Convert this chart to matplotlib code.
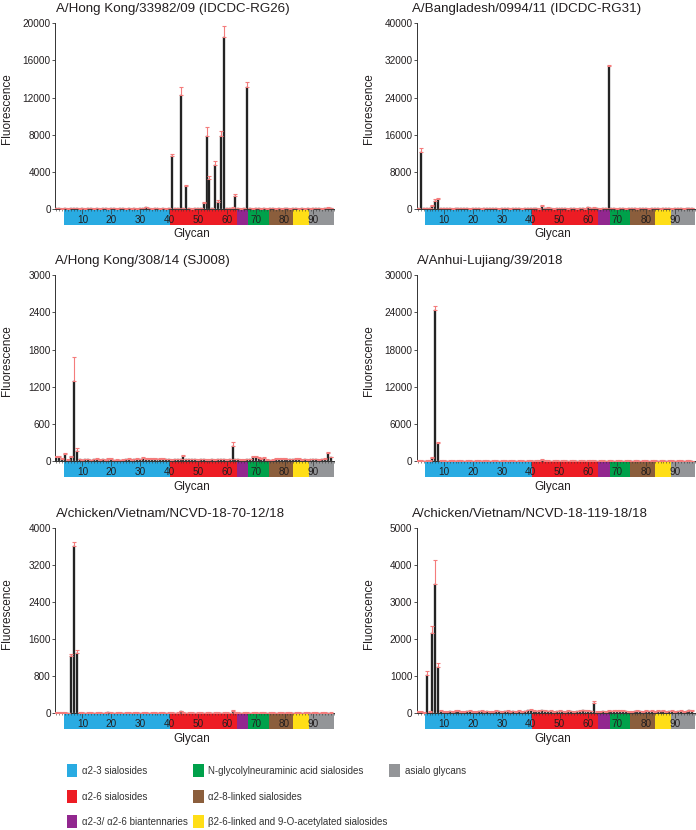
import numpy as np
import matplotlib
matplotlib.use('Agg')
import matplotlib.pyplot as plt
from matplotlib.patches import Rectangle
from matplotlib.transforms import blended_transform_factory
from matplotlib.ticker import MultipleLocator, FixedLocator
from matplotlib import font_manager

plt.rcParams['font.family'] = ['Liberation Sans', 'DejaVu Sans']

# ---------------- data ----------------
glycan_ids = np.arange(1, 97)

titles = ['A/Hong Kong/33982/09 (IDCDC-RG26)', 'A/Bangladesh/0994/11 (IDCDC-RG31)',
          'A/Hong Kong/308/14 (SJ008)', 'A/Anhui-Lujiang/39/2018',
          'A/chicken/Vietnam/NCVD-18-70-12/18', 'A/chicken/Vietnam/NCVD-18-119-18/18']
y_max = [20000, 40000, 3000, 30000, 4000, 5000]
y_step = [4000, 8000, 600, 6000, 800, 1000]

hk_rg26 = [40, 30, 20, 30, 20, 40, 60, 30, 20, 30,
           20, 30, 40, 20, 30, 20, 30, 40, 20, 30,
           30, 20, 30, 40, 20, 30, 20, 30, 20, 30,
           40, 150, 30, 20, 30, 40, 20, 30, 20, 30,
           5700, 40, 30, 12300, 50, 2480, 30, 20, 30, 40,
           30, 580, 7840, 3170, 40, 4710, 690, 7810, 18490, 30,
           40, 100, 1400, 30, 20, 30, 13160, 30, 20, 30,
           40, 20, 30, 20, 30, 40, 20, 30, 20, 30,
           30, 20, 30, 40, 20, 30, 20, 30, 20, 30,
           40, 30, 20, 30, 120, 40]
hk_rg26_err = [40, 30, 30, 30, 20, 40, 50, 30, 20, 30,
               20, 30, 40, 20, 30, 20, 30, 40, 20, 30,
               30, 20, 30, 40, 20, 30, 20, 30, 20, 30,
               40, 60, 30, 20, 30, 40, 20, 30, 20, 30,
               150, 40, 30, 860, 50, 130, 30, 20, 30, 40,
               30, 150, 1000, 350, 40, 400, 250, 600, 1200, 30,
               40, 80, 150, 30, 20, 30, 550, 30, 20, 30,
               40, 20, 30, 20, 30, 40, 20, 30, 20, 30,
               30, 20, 30, 40, 20, 30, 20, 30, 20, 30,
               40, 30, 20, 30, 60, 40]

bd_rg31 = [80, 12300, 60, 50, 60, 600, 1700, 2000, 80, 60,
           50, 60, 40, 50, 60, 70, 50, 60, 40, 50,
           60, 50, 40, 60, 50, 60, 70, 50, 40, 60,
           50, 60, 40, 50, 60, 50, 40, 60, 70, 50,
           60, 50, 40, 600, 60, 250, 50, 40, 60, 50,
           60, 50, 40, 60, 50, 40, 60, 50, 40, 350,
           60, 250, 50, 40, 60, 50, 30750, 60, 50, 40,
           60, 50, 40, 60, 50, 60, 40, 50, 60, 50,
           40, 60, 50, 60, 40, 50, 60, 50, 40, 60,
           50, 60, 40, 50, 60, 150]
bd_rg31_err = [80, 700, 60, 60, 60, 150, 300, 350, 80, 60,
               60, 60, 60, 60, 60, 70, 60, 60, 60, 60,
               60, 60, 60, 60, 60, 60, 70, 60, 60, 60,
               60, 60, 60, 60, 60, 60, 60, 60, 70, 60,
               60, 60, 60, 150, 60, 100, 60, 60, 60, 60,
               60, 60, 60, 60, 60, 60, 60, 60, 60, 100,
               60, 100, 60, 60, 60, 60, 300, 60, 60, 60,
               60, 60, 60, 60, 60, 60, 60, 60, 60, 60,
               60, 60, 60, 60, 60, 60, 60, 60, 60, 60,
               60, 60, 60, 60, 60, 80]

hk_sj008 = [60, 60, 40, 120, 15, 70, 1300, 160, 25, 10,
            30, 25, 10, 30, 35, 15, 25, 10, 40, 35,
            10, 20, 10, 20, 25, 30, 20, 30, 40, 30,
            50, 35, 40, 35, 40, 30, 40, 40, 30, 30,
            20, 25, 30, 25, 80, 25, 30, 30, 25, 20,
            30, 25, 20, 15, 25, 20, 25, 30, 25, 20,
            25, 250, 30, 25, 20, 15, 25, 30, 60, 70,
            55, 40, 50, 15, 10, 20, 40, 35, 40, 35,
            30, 25, 30, 40, 35, 20, 25, 20, 25, 30,
            25, 20, 30, 40, 130, 60]
hk_sj008_err = [15, 15, 10, 10, 10, 15, 380, 55, 10, 10,
                10, 10, 10, 10, 15, 10, 10, 10, 10, 10,
                10, 10, 10, 10, 10, 15, 10, 10, 15, 10,
                15, 10, 10, 10, 10, 10, 10, 10, 10, 10,
                10, 10, 10, 10, 20, 10, 10, 10, 10, 10,
                10, 10, 10, 10, 10, 10, 10, 10, 10, 10,
                10, 55, 10, 10, 10, 10, 10, 10, 15, 15,
                15, 10, 10, 10, 10, 10, 10, 10, 10, 10,
                10, 10, 10, 10, 10, 10, 10, 10, 10, 10,
                10, 10, 10, 10, 15, 10]

anhui = [60, 50, 40, 60, 80, 490, 24400, 2900, 60, 50,
         40, 60, 50, 40, 60, 50, 40, 60, 50, 40,
         60, 50, 40, 60, 50, 40, 60, 50, 40, 60,
         50, 40, 60, 50, 40, 60, 50, 40, 60, 50,
         40, 60, 50, 200, 60, 50, 40, 60, 50, 40,
         60, 50, 40, 60, 50, 40, 60, 50, 40, 60,
         50, 80, 40, 60, 50, 40, 60, 50, 40, 60,
         50, 40, 60, 50, 40, 60, 50, 40, 60, 50,
         40, 60, 50, 40, 60, 50, 40, 60, 50, 40,
         60, 50, 40, 60, 50, 40]
anhui_err = [40, 40, 40, 40, 40, 150, 600, 150, 40, 40,
             40, 40, 40, 40, 40, 40, 40, 40, 40, 40,
             40, 40, 40, 40, 40, 40, 40, 40, 40, 40,
             40, 40, 40, 40, 40, 40, 40, 40, 40, 40,
             40, 40, 40, 100, 40, 40, 40, 40, 40, 40,
             40, 40, 40, 40, 40, 40, 40, 40, 40, 40,
             40, 50, 40, 40, 40, 40, 40, 40, 40, 40,
             40, 40, 40, 40, 40, 40, 40, 40, 40, 40,
             40, 40, 40, 40, 40, 40, 40, 40, 40, 40,
             40, 40, 40, 40, 40, 40]

vn_70_12 = [10, 15, 10, 12, 8, 1240, 3620, 1310, 10, 12,
            8, 10, 12, 8, 10, 12, 8, 15, 20, 10,
            8, 10, 12, 8, 10, 12, 8, 10, 12, 8,
            10, 12, 8, 10, 12, 8, 10, 12, 8, 10,
            12, 8, 10, 40, 12, 8, 10, 12, 8, 10,
            12, 8, 10, 12, 8, 10, 12, 8, 10, 12,
            8, 60, 10, 12, 8, 10, 12, 8, 10, 12,
            8, 10, 12, 8, 10, 12, 8, 10, 12, 8,
            10, 12, 8, 10, 12, 8, 10, 12, 8, 10,
            12, 8, 10, 12, 8, 10]
vn_70_12_err = [8, 8, 8, 8, 8, 50, 80, 60, 8, 8,
                8, 8, 8, 8, 8, 8, 8, 8, 10, 8,
                8, 8, 8, 8, 8, 8, 8, 8, 8, 8,
                8, 8, 8, 8, 8, 8, 8, 8, 8, 8,
                8, 8, 8, 15, 8, 8, 8, 8, 8, 8,
                8, 8, 8, 8, 8, 8, 8, 8, 8, 8,
                8, 15, 8, 8, 8, 8, 8, 8, 8, 8,
                8, 8, 8, 8, 8, 8, 8, 8, 8, 8,
                8, 8, 8, 8, 8, 8, 8, 8, 8, 8,
                8, 8, 8, 8, 8, 8]

vn_119_18 = [40, 30, 20, 1030, 40, 2160, 3500, 1240, 60, 30,
             40, 50, 30, 60, 70, 40, 30, 50, 60, 40,
             30, 50, 60, 40, 50, 30, 40, 60, 50, 40,
             50, 60, 40, 50, 30, 60, 40, 50, 80, 90,
             60, 50, 70, 80, 70, 50, 60, 40, 50, 60,
             50, 40, 60, 50, 40, 50, 60, 80, 70, 60,
             50, 280, 40, 30, 50, 40, 60, 50, 60, 70,
             60, 70, 50, 40, 30, 50, 60, 50, 40, 60,
             50, 60, 40, 70, 50, 60, 40, 50, 60, 40,
             50, 60, 40, 50, 80, 70]
vn_119_18_err = [20, 20, 20, 120, 20, 200, 630, 110, 20, 20,
                 20, 20, 20, 20, 20, 20, 20, 20, 20, 20,
                 20, 20, 20, 20, 20, 20, 20, 20, 20, 20,
                 20, 20, 20, 20, 20, 20, 20, 20, 20, 20,
                 20, 20, 20, 20, 20, 20, 20, 20, 20, 20,
                 20, 20, 20, 20, 20, 20, 20, 20, 20, 20,
                 20, 40, 20, 20, 20, 20, 20, 20, 20, 20,
                 20, 20, 20, 20, 20, 20, 20, 20, 20, 20,
                 20, 20, 20, 20, 20, 20, 20, 20, 20, 20,
                 20, 20, 20, 20, 20, 20]

series = [hk_rg26, bd_rg31, hk_sj008, anhui, vn_70_12, vn_119_18]
errors = [hk_rg26_err, bd_rg31_err, hk_sj008_err, anhui_err, vn_70_12_err, vn_119_18_err]

cat_names = ['α2-3 sialosides', 'α2-6 sialosides', 'α2-3/ α2-6 biantennaries',
             'N-glycolylneuraminic acid sialosides', 'α2-8-linked sialosides',
             'β2-6-linked and 9-O-acetylated sialosides', 'asialo glycans']
cat_start = [3.5, 40.5, 63.5, 67.5, 74.5, 83.0, 88.5]
cat_end = [40.5, 63.5, 67.5, 74.5, 83.0, 88.5, 97.0]
cat_colors = ['#29ABE2', '#ED1C24', '#92278F', '#00A14B', '#8B5E3C', '#FFDE17', '#939598']
major_ticks = [10, 20, 30, 40, 50, 60, 70, 80, 90]

# ---------------- layout ----------------
W, H = 696, 830
fig = plt.figure(figsize=(W / 100, H / 100), dpi=100)
col_left = [55.0, 416.6]
row_top = [23.4, 275.3, 528.3]
row_bot = [208.7, 461.0, 713.3]
ax_w = 278.6
title_dx = [1, -5, 0, 0, 1, -5]
band_px = 16.0
txt = '#231F20'

for i in range(6):
    r, c = divmod(i, 2)
    ah = row_bot[r] - row_top[r]
    ax = fig.add_axes([col_left[c] / W, 1 - row_bot[r] / H, ax_w / W, ah / H])
    vals = np.array(series[i], dtype=float)
    errs = np.array(errors[i], dtype=float)
    ax.bar(glycan_ids, vals, width=0.68, color='#0d0d0d', edgecolor='#6a6a6a',
           linewidth=0.35, zorder=3)
    ax.errorbar(glycan_ids, vals, yerr=[np.zeros_like(errs), errs], fmt='none',
                ecolor='#F47C7C', elinewidth=0.8, capsize=1.2, capthick=0.8, zorder=4)
    ax.set_xlim(0.5, 97)
    ax.set_ylim(0, y_max[i])
    for s in ['top', 'right']:
        ax.spines[s].set_visible(False)
    for s in ['left', 'bottom']:
        ax.spines[s].set_color('#333333')
        ax.spines[s].set_linewidth(0.7)
    yt = np.arange(0, y_max[i] + 1, y_step[i])
    ax.set_yticks(yt)
    ax.set_yticklabels([str(int(v)) for v in yt])
    ax.tick_params(axis='y', length=2, width=0.6, labelsize=7.2, pad=1,
                   colors='#333333', labelcolor=txt)
    ax.xaxis.set_major_locator(FixedLocator(major_ticks))
    ax.xaxis.set_minor_locator(MultipleLocator(1))
    ax.set_xticklabels([str(t) for t in major_ticks])
    ax.tick_params(axis='x', which='major', length=3.5, width=0.5, labelsize=7.2,
                   pad=0.8, colors='#333333', labelcolor=txt)
    ax.tick_params(axis='x', which='minor', length=1.6, width=0.4, colors='#333333')

    tr = blended_transform_factory(ax.transData, ax.transAxes)
    bh = band_px / ah
    for cs, ce, cc in zip(cat_start, cat_end, cat_colors):
        ax.add_patch(Rectangle((cs, -bh), ce - cs, bh, transform=tr, facecolor=cc,
                               edgecolor='none', clip_on=False, zorder=0.5))

    ax.text(title_dx[i] / ax_w, 1 + 11.5 / ah, titles[i], transform=ax.transAxes,
            ha='left', va='baseline', fontsize=9.6, color=txt)
    ax.text(-48 / ax_w, 0.54, 'Fluorescence', transform=ax.transAxes, rotation=90,
            ha='center', va='center', fontsize=8.5, color=txt)
    ax.text(0.49, -25.5 / ah, 'Glycan', transform=ax.transAxes, ha='center',
            va='center', fontsize=8.5, color=txt)

# ---------------- legend ----------------
installed = {f.name for f in font_manager.fontManager.ttflist}
if 'Liberation Sans Narrow' in installed:
    leg_family, leg_size = ['Liberation Sans Narrow', 'DejaVu Sans'], 8.4
else:
    leg_family, leg_size = ['Liberation Sans', 'DejaVu Sans'], 7.0

leg_cols = [0, 0, 0, 1, 1, 1, 2]
leg_rows = [0, 1, 2, 0, 1, 2, 0]
sw_x = [66.7, 193.3, 389.3]
tx_x = [81.7, 208.3, 405.0]
row_y = [770.7, 796.5, 821.7]
sw_w, sw_h = 10.7, 13.0
for name, col, cc, rr in zip(cat_names, leg_cols, cat_colors, leg_rows):
    yc = row_y[rr]
    fig.add_artist(Rectangle((sw_x[col] / W, 1 - (yc + sw_h / 2) / H), sw_w / W, sw_h / H,
                             transform=fig.transFigure, facecolor=cc, edgecolor='none'))
    fig.text(tx_x[col] / W, 1 - yc / H, name, ha='left', va='center', fontsize=leg_size,
             family=leg_family, color='#333333')

fig.savefig('out.png', dpi=100)
